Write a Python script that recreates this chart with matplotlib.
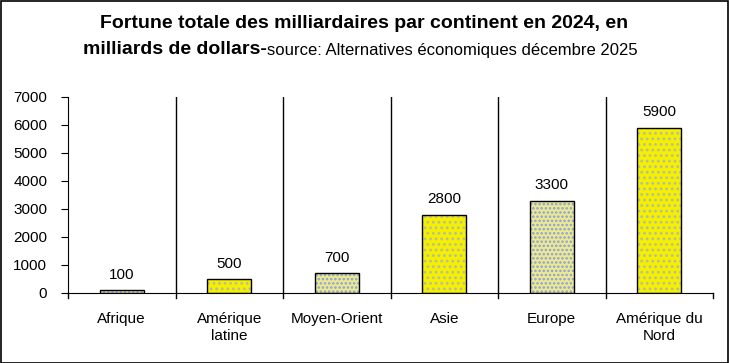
import numpy as np
import matplotlib.pyplot as plt
from matplotlib.patches import Rectangle

# data
categories = ['Afrique', 'Amérique\nlatine', 'Moyen-Orient', 'Asie', 'Europe', 'Amérique du\nNord']
values = [100, 500, 700, 2800, 3300, 5900]
pale = [True, False, True, False, True, False]

plt.rcParams['font.family'] = ['Liberation Sans', 'DejaVu Sans']
plt.rcParams['hatch.linewidth'] = 1.2

fig = plt.figure(figsize=(7.29, 3.63), dpi=100)
ax = fig.add_axes([68 / 729, 1 - 293 / 363, 645 / 729, 196 / 363])

x = np.arange(len(categories))
for xi, v, p in zip(x, values, pale):
    face = '#ECEA90' if p else '#F4F000'
    ax.bar(xi, v, width=0.41, color=face, edgecolor='#8C9CE0' if p else '#B8BCA0',
           hatch='....' if p else '...', linewidth=0, zorder=2)
    ax.bar(xi, v, width=0.41, fill=False, edgecolor='black', linewidth=1.0, zorder=3)
    ax.text(xi, v + 300, f'{v}', ha='center', va='bottom', fontsize=11)

ax.set_xlim(-0.5, len(categories) - 0.5)
ax.set_ylim(0, 7000)
ax.set_yticks(range(0, 7001, 1000))
ax.tick_params(axis='y', labelsize=11, length=5, direction='out', pad=10)
ax.set_xticks(x)
ax.set_xticklabels(categories, fontsize=11, linespacing=1.25)
ax.tick_params(axis='x', length=0, pad=14)
for b in np.arange(0.5, len(categories) - 0.5):
    ax.axvline(b, color='black', linewidth=1.0, zorder=1)
for b in np.arange(-0.5, len(categories)):
    ax.plot([b, b], [0, -0.025], color='black', linewidth=1.0,
            transform=ax.get_xaxis_transform(), clip_on=False)
ax.spines['top'].set_visible(False)
ax.spines['right'].set_visible(False)

fig.text(0.5, 1 - 23 / 363, 'Fortune totale des milliardaires par continent en 2024, en',
         ha='center', va='center', fontsize=14, fontweight='bold')
t1 = fig.text(83 / 729, 1 - 50 / 363, 'milliards de dollars-', ha='left', va='center',
              fontsize=14, fontweight='bold')
fig.canvas.draw()
bb = t1.get_window_extent()
fig.text(bb.x1 / fig.bbox.width, 1 - 51 / 363,
         'source: Alternatives économiques décembre 2025',
         ha='left', va='center', fontsize=12)

fig.patches.append(Rectangle((0.5 / 729, 0.5 / 363), 727.5 / 729, 361.5 / 363,
                             transform=fig.transFigure, fill=False,
                             edgecolor='black', linewidth=1.2))

fig.savefig('out.png', dpi=100)
